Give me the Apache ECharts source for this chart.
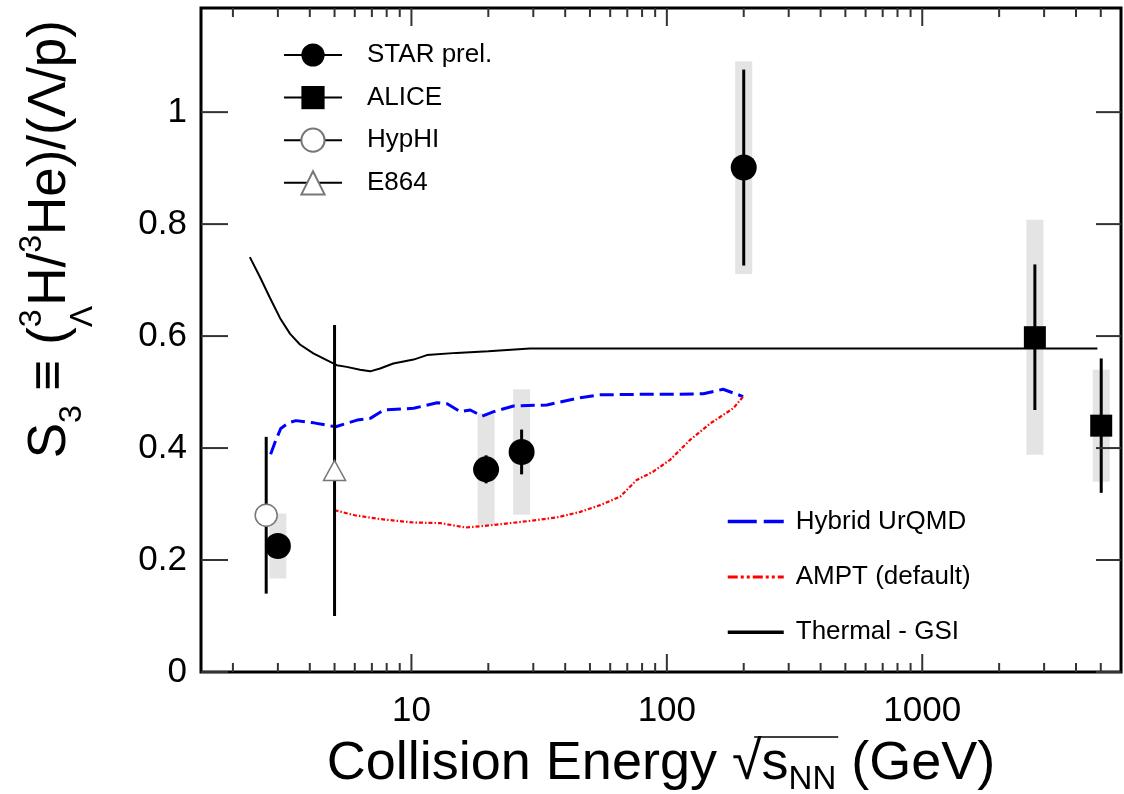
<!DOCTYPE html>
<html><head><meta charset="utf-8">
<script src="https://cdn.jsdelivr.net/npm/echarts@6/dist/echarts.min.js"></script>
<style>html,body{margin:0;padding:0;background:#fff}#c{width:1124px;height:794px}</style>
</head><body><div id="c"></div>
<script>
// ---------------- data ----------------
const starX = [3.0, 19.6, 27, 200];
const starY = [0.225, 0.362, 0.393, 0.901];
const starStat = [0.0, 0.025, 0.04, 0.175];
const starSys = [0.058, 0.10, 0.112, 0.19];

const aliceX = [2760, 5020];
const aliceY = [0.598, 0.44];
const aliceStat = [0.13, 0.12];
const aliceSys = [0.21, 0.10];

const hyphiX = [2.7];
const hyphiY = [0.28];
const hyphiErr = [0.14];

const e864X = [5.0];
const e864Y = [0.36];
const e864Err = [0.26];

const urqmdX = [2.81, 2.95, 3.08, 3.3, 3.53, 4.15, 5.05, 6.13, 6.9, 7.8, 10.2, 12.6, 13.8, 15.5, 17, 18.9, 21, 25.1, 33.9, 45.8, 54.8, 80, 110, 139, 166, 199];
const urqmdY = [0.389, 0.415, 0.435, 0.445, 0.449, 0.445, 0.438, 0.45, 0.453, 0.468, 0.471, 0.481, 0.479, 0.465, 0.468, 0.457, 0.465, 0.475, 0.477, 0.49, 0.495, 0.496, 0.496, 0.497, 0.505, 0.492];

const amptX = [5.0, 6.0, 7.57, 10.2, 12.98, 16.3, 20.4, 29.2, 37, 45.8, 54.8, 65.6, 76.2, 88.5, 103, 123, 148, 182, 199];
const amptY = [0.289, 0.28, 0.273, 0.267, 0.266, 0.258, 0.262, 0.27, 0.276, 0.286, 0.298, 0.313, 0.343, 0.358, 0.379, 0.414, 0.444, 0.471, 0.492];

const thermalX = [2.33, 2.555, 2.795, 3.06, 3.35, 3.66, 4.13, 4.66, 5.1, 5.58, 6.29, 6.89, 7.54, 8.49, 10.2, 11.5, 15, 20, 29.1, 100, 1000, 4850];
const thermalY = [0.741, 0.705, 0.668, 0.632, 0.604, 0.585, 0.569, 0.557, 0.548, 0.545, 0.54, 0.537, 0.542, 0.551, 0.558, 0.566, 0.57, 0.573, 0.578, 0.578, 0.578, 0.578];

const xMajorTicks = [10, 100, 1000];
const xMinorTicks = [2, 3, 4, 5, 6, 7, 8, 9, 20, 30, 40, 50, 60, 70, 80, 90, 200, 300, 400, 500, 600, 700, 800, 900, 2000, 3000, 4000, 5000];
const yMajorTicks = [0, 0.2, 0.4, 0.6, 0.8, 1.0];

// ---------------- helpers ----------------
const FONT = '"Liberation Sans", Arial, Helvetica, sans-serif';
const pairs = (xs, ys) => xs.map((x, i) => [x, ys[i]]);
const isolated = (xs, ys) => { const out = []; xs.forEach((x, i) => { if (i) out.push([x, '-']); out.push([x, ys[i]]); }); return out; };
const triples = (xs, ys, es) => xs.map((x, i) => [x, ys[i], es[i]]);

const mctx = document.createElement('canvas').getContext('2d');
function tw(t, size) { mctx.font = size + 'px ' + FONT; return mctx.measureText(t).width; }

function renderErr(params, api) {
  const x = api.value(0), y = api.value(1), e = api.value(2);
  if (!(e > 0)) return null;
  const p1 = api.coord([x, y - e]), p2 = api.coord([x, y + e]);
  return { type: 'line', shape: { x1: p1[0], y1: p1[1], x2: p2[0], y2: p2[1] }, style: { stroke: '#000', lineWidth: 3 } };
}
function renderBox(params, api) {
  const x = api.value(0), y = api.value(1), e = api.value(2);
  const p1 = api.coord([x, y + e]), p2 = api.coord([x, y - e]);
  return { type: 'rect', shape: { x: p1[0] - 8.5, y: p1[1], width: 17, height: p2[1] - p1[1] }, style: { fill: '#e4e4e4' } };
}
const tickData = [];
xMajorTicks.forEach(v => tickData.push([v, 0, 0]));
xMinorTicks.forEach(v => tickData.push([v, 0, 1]));
yMajorTicks.forEach(v => tickData.push([10, v, 2]));
function renderTick(params, api) {
  const cs = params.coordSys;
  const kind = api.value(2);
  const style = { stroke: '#333', lineWidth: 2 };
  if (kind < 2) {
    const x = api.coord([api.value(0), 0])[0];
    const len = kind === 0 ? 18 : 9;
    const b = cs.y + cs.height, t = cs.y;
    return { type: 'group', children: [
      { type: 'line', shape: { x1: x, y1: b, x2: x, y2: b - len }, style },
      { type: 'line', shape: { x1: x, y1: t, x2: x, y2: t + len }, style }] };
  }
  const y = api.coord([10, api.value(1)])[1];
  const l = cs.x, r = cs.x + cs.width;
  return { type: 'group', children: [
    { type: 'line', shape: { x1: l, y1: y, x2: l + 27, y2: y }, style },
    { type: 'line', shape: { x1: r, y1: y, x2: r - 25, y2: y }, style }] };
}

// ---------------- titles (layout with sub/superscripts) ----------------
function txt(t, x, y, size) {
  return { type: 'text', x: x, y: y, style: { text: t, font: size + 'px ' + FONT, fontSize: size, fontFamily: FONT, fill: '#000',
    align: 'left', textAlign: 'left', verticalAlign: 'middle', textVerticalAlign: 'middle' } };
}
// Y title
const F = 53, FS = 32;
const yParts = []; let p = 0;
function ym(t) { yParts.push(txt(t, p, 0, F)); p += tw(t, F); }
function ysub(t, off) { yParts.push(txt(t, p, off, FS)); p += tw(t, FS); }
ym('S'); ysub('3', 0.42 * F); ym(' \u2261 '); ym('(');
yParts.push(txt('3', p, -0.33 * F, FS)); yParts.push(txt('\u039B', p, 0.62 * F, FS)); p += Math.max(tw('3', FS), tw('\u039B', FS));
ym('H/'); yParts.push(txt('3', p, -0.33 * F, FS)); p += tw('3', FS); ym('He)/(\u039B/p)');
const yTitleLen = p;
// X title
const F2 = 54, FS2 = 33;
const xParts = []; let q = 0;
function xm(t) { xParts.push(txt(t, q, 0, F2)); q += tw(t, F2); }
xm('Collision Energy '); xm('\u221A'); const olStart = q - tw('\u221A', F2) * 0.25; xm('s');
xParts.push(txt('NN', q, 0.3 * F2, FS2)); q += tw('NN', FS2); const olEnd = q + 2; xm(' (GeV)');
const xTitleLen = q;
xParts.push({ type: 'line', shape: { x1: olStart, y1: -0.5 * F2, x2: olEnd, y2: -0.5 * F2 }, style: { stroke: '#000', lineWidth: 1.5 } });

// ---------------- chart ----------------
const chart = echarts.init(document.getElementById('c'), null, { renderer: 'canvas', width: 1124, height: 794 });
const isPow10 = v => v >= 9.99 && Math.abs(Math.log10(v) - Math.round(Math.log10(v))) < 1e-6;
const hideSym = { color: 'rgba(0,0,0,0)', borderWidth: 0, opacity: 0 };

chart.setOption({
  animation: false,
  backgroundColor: '#fff',
  grid: { left: 201, top: 8, width: 920, height: 664, show: true, borderColor: '#000', borderWidth: 3, backgroundColor: 'transparent' },
  xAxis: {
    type: 'log', logBase: 10, min: 1.5, max: 6000,
    axisLine: { show: false }, axisTick: { show: false }, splitLine: { show: false },
    axisLabel: { fontSize: 35, fontFamily: FONT, color: '#000', margin: 22, formatter: v => isPow10(v) ? String(Math.round(v)) : '' }
  },
  yAxis: {
    type: 'value', min: 0, max: 1.186, interval: 0.2,
    axisLine: { show: false }, axisTick: { show: false }, splitLine: { show: false },
    axisLabel: { fontSize: 35, fontFamily: FONT, color: '#000', margin: 14,
      formatter: v => { const r = Math.round(v * 5) / 5; return (Math.abs(v - r) < 1e-6 && r <= 1.0001) ? String(Number(r.toFixed(1))) : ''; } }
  },
  legend: [
    { orient: 'vertical', left: 283, top: 42, padding: 0, itemWidth: 58, itemHeight: 29, itemGap: 16.6, selectedMode: false,
      data: ['STAR prel.', 'ALICE', 'HypHI', 'E864'],
      textStyle: { fontSize: 26, fontFamily: FONT, color: '#000', padding: [0, 0, 0, 20] } },
    { orient: 'vertical', left: 726, top: 508.6, padding: 0, itemWidth: 56, itemHeight: 20, itemGap: 29.3, selectedMode: false,
      data: [
        { name: 'Hybrid UrQMD', itemStyle: hideSym, lineStyle: { type: [29, 7], width: 3.5 } },
        { name: 'AMPT (default)', itemStyle: hideSym, lineStyle: { type: [10, 3, 3, 3, 3, 3], width: 3 } },
        { name: 'Thermal - GSI', itemStyle: hideSym, lineStyle: { width: 3.5 } }],
      textStyle: { fontSize: 26, fontFamily: FONT, color: '#000', padding: [0, 0, 0, 7] } }
  ],
  graphic: [
    { type: 'group', x: 50, y: 20 + yTitleLen, rotation: Math.PI / 2, children: yParts },
    { type: 'group', x: 661 - xTitleLen / 2, y: 764, children: xParts }
  ],
  series: [
    { type: 'custom', name: 'ticks', renderItem: renderTick, data: tickData, z: 6, silent: true, encode: { x: 0, y: 1 } },
    { type: 'custom', name: 'STAR sys', renderItem: renderBox, data: triples(starX, starY, starSys), z: 1, silent: true, encode: { x: 0, y: 1 } },
    { type: 'custom', name: 'ALICE sys', renderItem: renderBox, data: triples(aliceX, aliceY, aliceSys), z: 1, silent: true, encode: { x: 0, y: 1 } },
    { name: 'Hybrid UrQMD', type: 'line', data: pairs(urqmdX, urqmdY), symbol: 'none', z: 2, silent: true,
      lineStyle: { color: '#0000ff', width: 3, type: [14, 6] }, itemStyle: { color: '#0000ff' } },
    { name: 'AMPT (default)', type: 'line', data: pairs(amptX, amptY), symbol: 'none', z: 2, silent: true,
      lineStyle: { color: '#ff0000', width: 2.2, type: [4, 2, 1.5, 2] }, itemStyle: { color: '#ff0000' } },
    { name: 'Thermal - GSI', type: 'line', data: pairs(thermalX, thermalY), symbol: 'none', z: 2, silent: true,
      lineStyle: { color: '#000', width: 2 }, itemStyle: { color: '#000' } },
    { type: 'custom', name: 'STAR stat', renderItem: renderErr, data: triples(starX, starY, starStat), z: 3, silent: true, encode: { x: 0, y: 1 } },
    { type: 'custom', name: 'ALICE stat', renderItem: renderErr, data: triples(aliceX, aliceY, aliceStat), z: 3, silent: true, encode: { x: 0, y: 1 } },
    { type: 'custom', name: 'HypHI err', renderItem: renderErr, data: triples(hyphiX, hyphiY, hyphiErr), z: 3, silent: true, encode: { x: 0, y: 1 } },
    { type: 'custom', name: 'E864 err', renderItem: renderErr, data: triples(e864X, e864Y, e864Err), z: 3, silent: true, encode: { x: 0, y: 1 } },
    { name: 'STAR prel.', type: 'line', data: isolated(starX, starY), symbol: 'circle', symbolSize: 26, z: 4, silent: true,
      itemStyle: { color: '#000' }, lineStyle: { color: '#000', width: 2.5 } },
    { name: 'ALICE', type: 'line', data: isolated(aliceX, aliceY), symbol: 'rect', symbolSize: 22, z: 4, silent: true,
      itemStyle: { color: '#000' }, lineStyle: { color: '#000', width: 2.5 } },
    { name: 'HypHI', type: 'line', data: isolated(hyphiX, hyphiY), symbol: 'circle', symbolSize: 22, z: 4, silent: true,
      itemStyle: { color: '#fff', borderColor: '#777', borderWidth: 1.5 }, lineStyle: { color: '#000', width: 2.5 } },
    { name: 'E864', type: 'line', data: isolated(e864X, e864Y), symbol: 'triangle', symbolSize: [22, 20], z: 4, silent: true,
      itemStyle: { color: '#fff', borderColor: '#777', borderWidth: 1.5 }, lineStyle: { color: '#000', width: 2.5 } }
  ]
});
</script></body></html>
